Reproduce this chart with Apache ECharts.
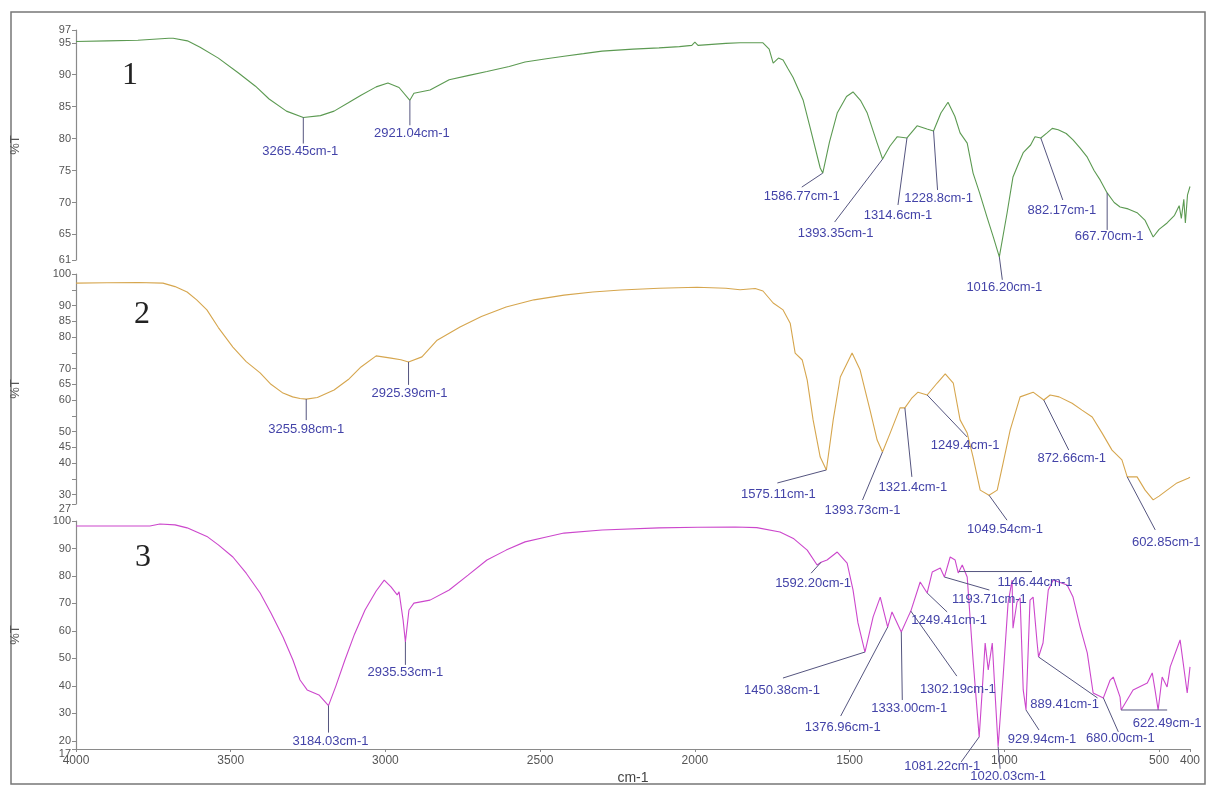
<!DOCTYPE html>
<html><head><meta charset="utf-8">
<script src="https://cdn.jsdelivr.net/npm/echarts@6/dist/echarts.min.js"></script>
<style>html,body{margin:0;padding:0;background:#fff}#c{width:1208px;height:787px}</style>
</head><body><div id="c"></div>
<script>
// ---------- DATA ----------
const xTicks = [4000,3500,3000,2500,2000,1500,1000,500,400];
const yLabels1 = [61,65,70,75,80,85,90,95,97];
const yLabels2 = [30,40,45,50,60,65,70,80,85,90,100];
const yTicks2 = [27,30,35,40,45,50,55,60,65,70,75,80,85,90,95,100];
const yLabels3 = [20,30,40,50,60,70,80,90,100];
const yMinLabel2 = [27];
const yMinLabel3 = [17];
const panelNames = ['1','2','3'];

const wn1 = [4000,3900,3800,3700,3686,3640,3599,3540,3476,3420,3376,3320,3265.45,3210,3166,3120,3079,3030,2992,2956,2921.04,2908,2856,2794,2730,2672,2600,2549,2480,2423,2360,2300,2200,2116,2050,2010,2000,1990,1900,1854,1780,1760,1747,1730,1715,1700,1683,1650,1628,1595,1586.77,1565,1540,1510,1489,1465,1443,1411,1393.35,1370,1346,1314.6,1282,1250,1228.8,1205,1182,1160,1143,1120,1101,1080,1056,1035,1016.2,991,972,955,939,915,901,882.17,862,845,826,800,778,755,732,710,690,667.7,645,626,600,571,545,519,500,474,450,435,428,420,415,408,400];
const t1 = [95.2,95.3,95.4,95.7,95.7,95.3,94.3,92.6,90.3,88.2,86.2,84.3,83.3,83.6,84.3,85.6,86.8,88.1,88.7,88.0,86.0,87.1,87.6,89.2,89.9,90.5,91.3,92.0,92.5,92.9,93.3,93.7,94.0,94.2,94.4,94.6,95.1,94.6,94.9,95.0,95.0,94.0,91.8,92.6,92.3,91.0,89.6,86.0,81.8,75.4,74.6,79.5,84.0,86.6,87.3,86.0,84.0,79.3,76.8,78.8,80.3,80.1,82.0,81.5,81.2,84.0,85.7,83.5,80.9,79.3,74.6,71.5,67.7,64.5,61.5,68.4,74.0,76.0,77.8,79.0,80.3,80.1,80.9,81.6,81.4,80.8,79.8,78.5,77.1,75.0,73.5,71.5,70.0,69.3,69.0,68.4,67.2,64.6,65.8,66.8,68.0,69.5,67.5,70.5,66.8,71.2,72.5];

const wn2 = [4000,3900,3800,3719,3680,3641,3610,3577,3540,3493,3450,3405,3370,3331,3300,3276,3255.98,3220,3166,3120,3079,3030,2982,2950,2925.39,2882,2833,2759,2690,2610,2520,2423,2330,2239,2116,1993,1900,1854,1805,1780,1747,1715,1692,1676,1653,1637,1618,1595,1575.11,1553,1530,1492,1466,1434,1411,1393.73,1369,1337,1321.4,1300,1279,1249.4,1217,1191,1165,1143,1120,1101,1078,1049.54,1023,1004,981,949,907,872.66,852,823,781,749,716,684,652,620,602.85,571,545,519,500,474,442,406,400];
const t2 = [97.1,97.2,97.3,97.1,96.0,94.3,91.8,88.6,83.0,76.8,72.2,68.6,65.0,62.2,61.0,60.5,60.3,60.8,63.2,66.5,70.5,74.0,73.3,72.8,72.1,73.7,79.0,83.2,86.5,89.5,91.8,93.3,94.3,94.9,95.5,95.8,95.5,95.0,95.4,94.6,90.8,88.6,84.4,74.9,72.7,66.3,53.7,41.9,37.8,53.7,67.3,74.9,69.5,56.8,47.3,43.5,49.5,57.5,57.5,60.5,62.5,61.6,65.4,68.3,65.4,53.7,49.5,41.9,31.4,29.8,31.4,40.0,50.5,61.0,62.5,60.0,61.6,61.0,59.0,56.8,54.6,49.5,44.1,41.0,35.6,35.6,31.4,28.3,29.5,31.4,33.7,35.2,35.5];

const wn3 = [4000,3900,3761,3729,3680,3641,3577,3540,3493,3450,3405,3370,3331,3299,3276,3253,3215,3184.03,3160,3131,3100,3066,3030,3004,2982,2962,2956,2943,2935.53,2924,2908,2856,2794,2733,2672,2610,2549,2480,2423,2300,2116,1990,1870,1800,1725,1680,1637,1605,1592.2,1573,1540,1508,1489,1473,1450.38,1424,1401,1376.96,1363,1333,1311,1302.19,1272,1249.41,1233,1207,1193.71,1175,1159,1149,1146.44,1136,1120,1101,1081.22,1072,1062,1052,1039,1030,1020.03,1004,988,975,972,959,949,939,929.94,917,907,894,889.41,875,858,842,797,778,755,732,713,680,658,648,626,622.49,584,538,522,513,503,490,474,464,432,409,400];
const t3 = [98.2,98.2,98.2,98.9,98.6,97.5,94.4,91.3,86.9,81.0,73.8,66.5,57.8,49.4,42.1,38.5,36.7,32.8,40.0,49.4,58.8,67.6,74.5,78.5,76.0,73.1,74.2,64.0,56.0,67.6,70.1,71.2,74.9,80.3,85.8,89.4,92.4,94.2,95.6,96.7,97.5,97.7,97.8,97.6,96.0,93.5,89.4,84.0,85.0,85.8,88.7,84.7,74.9,62.9,52.3,65.1,72.3,61.4,66.9,59.6,65.1,67.2,77.8,73.8,81.4,82.9,79.6,86.9,85.8,81.1,81.6,84.0,79.6,49.4,21.4,37.4,55.6,45.8,55.6,37.4,17.8,43.2,70.0,78.5,61.0,70.5,72.0,38.5,31.2,71.2,72.3,55.6,50.5,55.6,74.9,78.5,76.7,72.3,61.4,52.0,37.4,35.6,42.1,43.2,35.9,31.2,38.5,41.0,44.7,38.5,31.2,43.2,39.6,46.9,56.7,37.4,46.9];

const peaks1 = [3265.45,2921.04,1586.77,1393.35,1314.6,1228.8,1016.2,882.17,667.7];
const peakLabels1 = ['3265.45cm-1','2921.04cm-1','1586.77cm-1','1393.35cm-1','1314.6cm-1','1228.8cm-1','1016.20cm-1','882.17cm-1','667.70cm-1'];
const peaks2 = [3255.98,2925.39,1575.11,1393.73,1321.4,1249.4,1049.54,872.66,602.85];
const peakLabels2 = ['3255.98cm-1','2925.39cm-1','1575.11cm-1','1393.73cm-1','1321.4cm-1','1249.4cm-1','1049.54cm-1','872.66cm-1','602.85cm-1'];
const peaks3 = [3184.03,2935.53,1592.2,1450.38,1376.96,1333,1302.19,1249.41,1193.71,1146.44,1081.22,1020.03,929.94,889.41,680,622.49];
const peakLabels3 = ['3184.03cm-1','2935.53cm-1','1592.20cm-1','1450.38cm-1','1376.96cm-1','1333.00cm-1','1302.19cm-1','1249.41cm-1','1193.71cm-1','1146.44cm-1','1081.22cm-1','1020.03cm-1','929.94cm-1','889.41cm-1','680.00cm-1','622.49cm-1'];

// ---------- LAYOUT (leader end dx,dy ; text centre dx,dy in px) ----------
const lay1 = [[0,26,-3,34],[0,25,2,33],[-21,14,-21,23],[-48,63,-47,74],[-9,67,-9,77],[4,59,5,67],[3,23,5,31],[22,62,21,72],[0,37,2,44]];
const lay2 = [[0,21,0,30],[0,23,1,32],[-49,13,-48,24],[-20,48,-20,58],[7,69,8,80],[40,42,38,50],[18,25,16,34],[25,50,28,58],[28,53,39,66]];
const lay3 = [[0,27,2,36],[0,23,0,31],[-10,11,-8,21],[-82,26,-83,38],[-47,89,-45,100],[1,68,8,76],[46,65,47,78],[20,19,22,27],[45,13,45,22],[73,0,76,11],[-18,25,-37,30],[2,22,10,30],[13,20,16,29],[59,41,26,47],[15,34,17,41],[46,0,46,13]];

function interp(ws, ts, w) {
  for (let i = 0; i < ws.length - 1; i++) {
    if ((ws[i] >= w && ws[i+1] <= w)) {
      if (ws[i] === ws[i+1]) return ts[i];
      const f = (ws[i] - w) / (ws[i] - ws[i+1]);
      return ts[i] + f * (ts[i+1] - ts[i]);
    }
  }
  return ts[ts.length - 1];
}
const zip = (a, b) => a.map((v, i) => [v, b[i]]);

const chart = echarts.init(document.getElementById('c'), null, {renderer: 'canvas'});
const grids = [
  {left: 76, right: 18, top: 30, height: 230},
  {left: 76, right: 18, top: 274, height: 230},
  {left: 76, right: 18, top: 521, height: 228}
];
const AX = '#8a8a8a';
function yAxis(i, min, max, labels, ticks) {
  return {
    type: 'value', gridIndex: i, min, max, position: 'left',
    name: '%T', nameLocation: 'middle', nameGap: 54, nameRotate: 90,
    nameTextStyle: {color: '#555', fontSize: 13, fontFamily: 'Liberation Sans'},
    axisLine: {show: true, lineStyle: {color: AX, width: 1.2}},
    axisTick: {show: true, length: 4, lineStyle: {color: AX}, customValues: ticks || labels},
    axisLabel: {color: '#555', fontSize: 11, fontFamily: 'Liberation Sans', margin: 5,
      customValues: labels, hideOverlap: false, formatter: v => String(v)},
    splitLine: {show: false}
  };
}
function minLabelAxis(i, min, max, labels) {
  return {
    type: 'value', gridIndex: i, min, max, position: 'left', offset: 0,
    axisLine: {show: false}, axisTick: {show: false}, splitLine: {show: false},
    axisLabel: {color: '#555', fontSize: 11, fontFamily: 'Liberation Sans', margin: 5,
      customValues: labels, formatter: v => String(v), verticalAlign: 'top', lineHeight: 9}
  };
}
function xAxis(i, show) {
  return {
    type: 'value', gridIndex: i, min: 400, max: 4000, inverse: true, show,
    name: show ? 'cm-1' : '', nameLocation: 'middle', nameGap: 22,
    nameTextStyle: {color: '#444', fontSize: 14, fontFamily: 'Liberation Sans'},
    axisLine: {show: true, onZero: false, lineStyle: {color: AX, width: 1.2}},
    axisTick: {show: true, length: 3, lineStyle: {color: AX}, customValues: xTicks},
    axisLabel: {color: '#555', fontSize: 12, fontFamily: 'Liberation Sans', margin: 6,
      customValues: xTicks, hideOverlap: false, formatter: v => String(v)},
    splitLine: {show: false}
  };
}
function lineSeries(i, ws, ts, color) {
  return {type: 'line', xAxisIndex: i, yAxisIndex: i, data: zip(ws, ts), showSymbol: false,
    lineStyle: {color, width: 1.1}, itemStyle: {color}, silent: true, z: 3};
}
function annotSeries(i, peaks, labels, lay, ws, ts) {
  return {
    type: 'custom', xAxisIndex: i, yAxisIndex: i, z: 10, silent: true,
    data: peaks.map(w => [w, interp(ws, ts, w)]),
    renderItem(params, api) {
      const p = api.coord([api.value(0), api.value(1)]);
      const L = lay[params.dataIndex];
      return {type: 'group', children: [
        {type: 'line', shape: {x1: p[0], y1: p[1], x2: p[0] + L[0], y2: p[1] + L[1]},
          style: {stroke: '#55557f', lineWidth: 1}},
        {type: 'text', x: p[0] + L[2], y: p[1] + L[3],
          style: {text: labels[params.dataIndex], fill: '#4343a8', fontSize: 13,
            fontFamily: 'Liberation Sans', align: 'center', verticalAlign: 'middle'}}
      ]};
    }
  };
}

const option = {
  animation: false,
  backgroundColor: '#fff',
  grid: grids,
  xAxis: [xAxis(0, false), xAxis(1, false), xAxis(2, true)],
  yAxis: [yAxis(0, 61, 97, yLabels1), yAxis(1, 27, 100, yLabels2, yTicks2), yAxis(2, 17, 100, yLabels3, [17].concat(yLabels3)),
          minLabelAxis(1, 27, 100, yMinLabel2), minLabelAxis(2, 17, 100, yMinLabel3)],
  series: [
    lineSeries(0, wn1, t1, '#5c9a52'),
    lineSeries(1, wn2, t2, '#d6a64e'),
    lineSeries(2, wn3, t3, '#cc47cc'),
    annotSeries(0, peaks1, peakLabels1, lay1, wn1, t1),
    annotSeries(1, peaks2, peakLabels2, lay2, wn2, t2),
    annotSeries(2, peaks3, peakLabels3, lay3, wn3, t3)
  ],
  graphic: [
    {type: 'rect', shape: {x: 11, y: 12, width: 1194, height: 772}, style: {fill: null, stroke: '#777', lineWidth: 1.5}, z: 0, silent: true},
    {type: 'text', x: 130, y: 76, style: {text: panelNames[0], fontSize: 32, fontFamily: 'Liberation Serif', fill: '#222', align: 'center', verticalAlign: 'middle'}},
    {type: 'text', x: 142, y: 315, style: {text: panelNames[1], fontSize: 32, fontFamily: 'Liberation Serif', fill: '#222', align: 'center', verticalAlign: 'middle'}},
    {type: 'text', x: 143, y: 558, style: {text: panelNames[2], fontSize: 32, fontFamily: 'Liberation Serif', fill: '#222', align: 'center', verticalAlign: 'middle'}}
  ]
};
chart.setOption(option);
</script></body></html>
